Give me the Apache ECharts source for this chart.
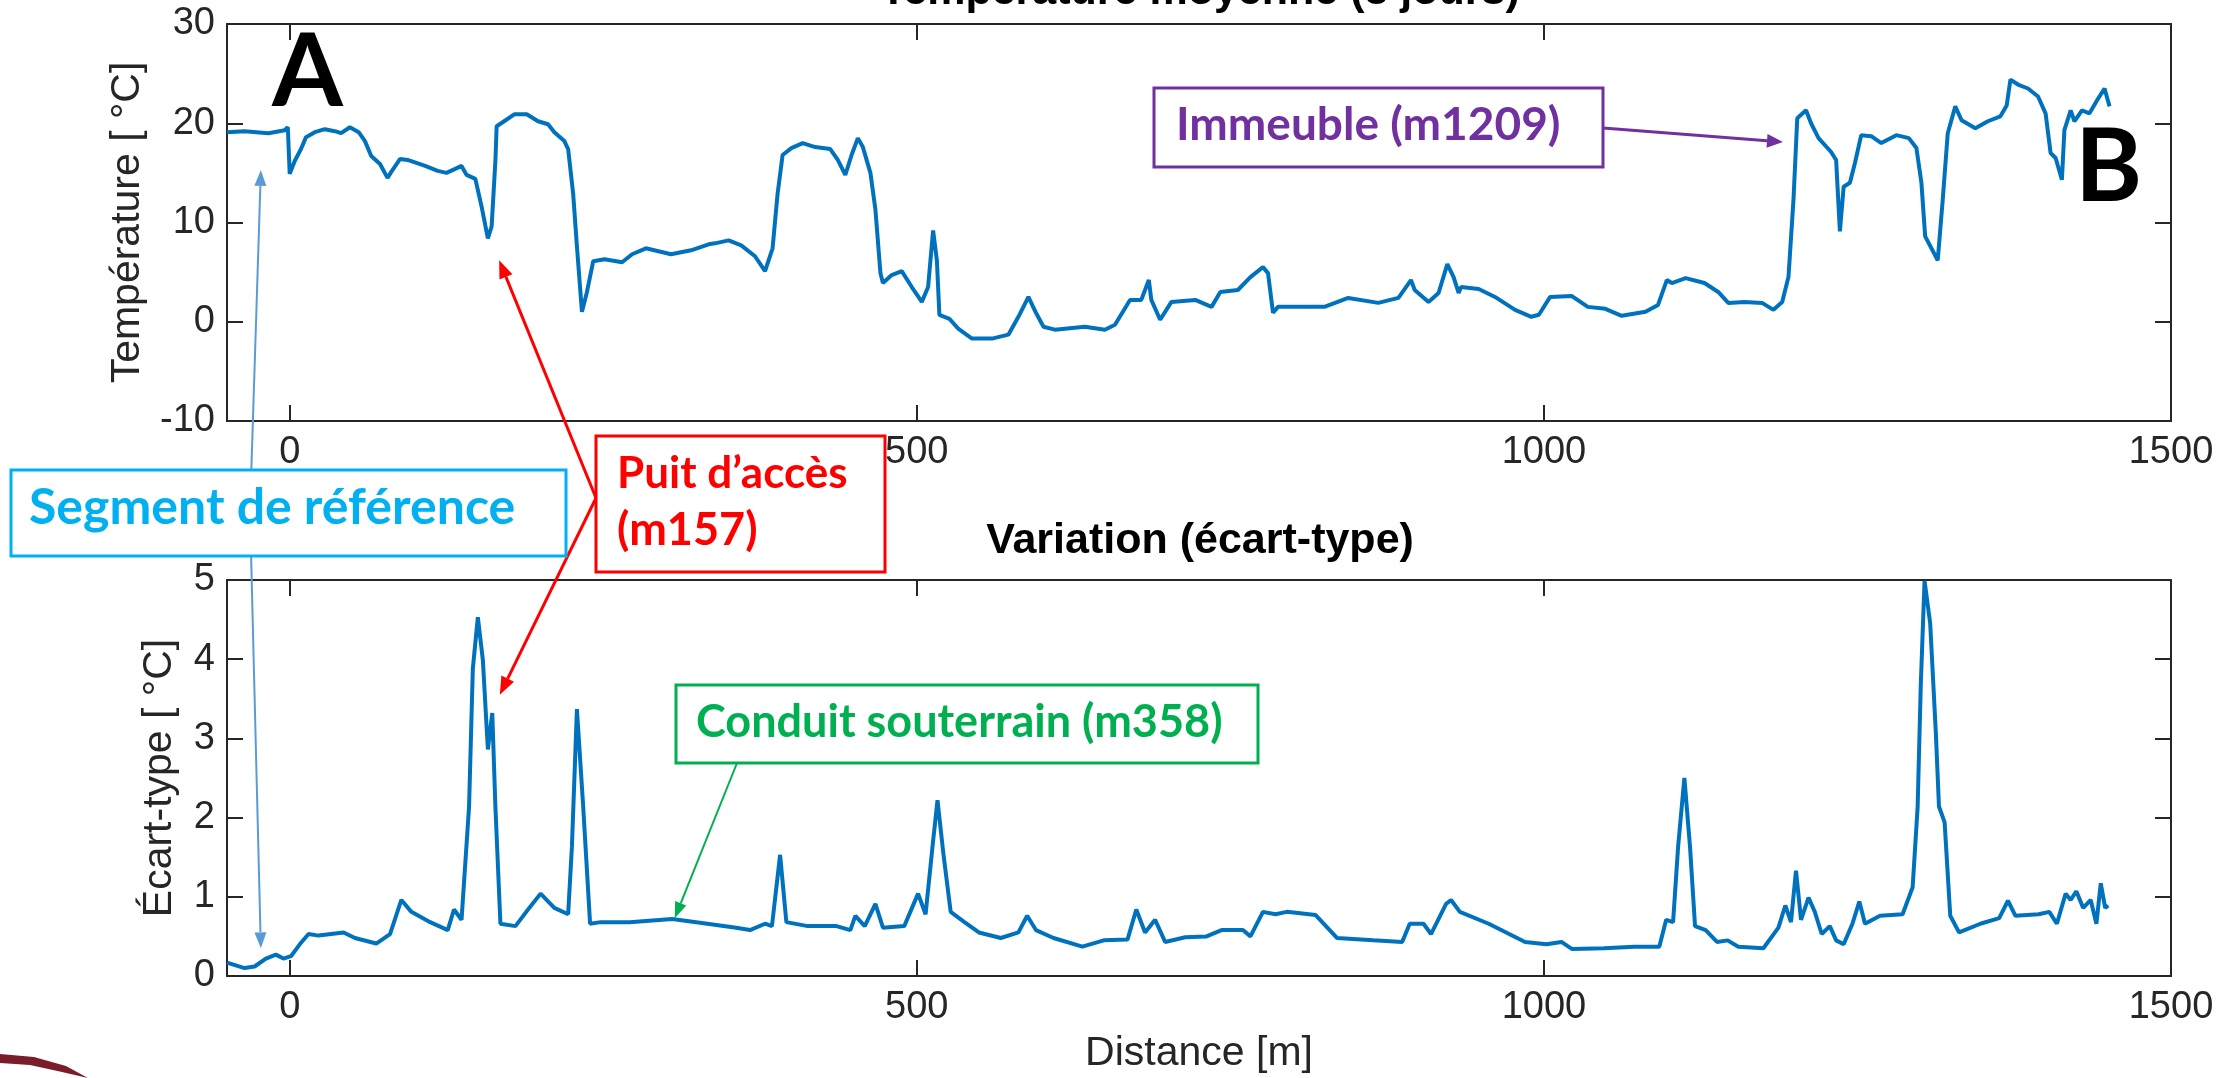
<!DOCTYPE html>
<html>
<head>
<meta charset="utf-8">
<script src="https://cdn.jsdelivr.net/npm/echarts@6/dist/echarts.min.js"></script>
<style>
    html, body { margin: 0; padding: 0; background: #fff; }
    #chart { width: 2233px; height: 1078px; }
</style>
</head>
<body>
<div id="chart"></div>
<script>
    // distance along the cable [m]
    var tempDist = [-50, -36, -17, -4, -1.5, 0, 4, 9, 13, 20, 28, 36, 41, 48, 55, 60, 65, 72, 78, 81,
        88, 94, 108, 118, 125, 132, 137, 141, 148, 153, 158, 161, 164, 165, 171, 179, 189, 198, 206, 211,
        219, 222, 226, 229, 233, 237, 242, 251, 265, 273, 284, 294, 304, 320, 334, 339, 350, 360, 371, 379,
        385, 389, 393, 400, 409, 419, 431, 437, 443, 448, 453, 457, 463, 467, 471, 473, 480, 488, 496, 504,
        509, 513, 516, 518, 526, 533, 544, 560, 573, 581, 589, 595, 601, 610, 634, 650, 658, 670, 679, 685,
        687, 694, 703, 722, 735, 742, 756, 766, 776, 780, 784, 788, 809, 825, 844, 868, 884, 894, 897, 908,
        916, 923, 928, 932, 934, 948, 961, 977, 990, 996, 1005, 1022, 1035, 1049, 1062, 1081, 1091, 1098, 1102, 1113,
        1128, 1139, 1147, 1160, 1174, 1183, 1190, 1195, 1199, 1202, 1209, 1213, 1219, 1229, 1233, 1236, 1239, 1244, 1248, 1253,
        1261, 1269, 1281, 1291, 1297, 1301, 1304, 1314, 1318, 1322, 1328, 1333, 1344, 1354, 1364, 1369, 1372, 1378, 1386, 1394,
        1400, 1404, 1408, 1413, 1415, 1420, 1423, 1429, 1435, 1441, 1447, 1451];
    // mean temperature over 3 days [°C]
    var tempMean = [19.1, 19.2, 19.0, 19.3, 19.6, 14.9, 16.2, 17.4, 18.6, 19.1, 19.4, 19.2, 19.0, 19.6, 19.1, 18.2, 16.7, 15.9, 14.5, 15.1,
        16.4, 16.3, 15.7, 15.2, 15.0, 15.4, 15.7, 14.8, 14.4, 11.6, 8.4, 9.6, 16.2, 19.7, 20.2, 20.9, 20.9, 20.2, 19.9, 19.1,
        18.2, 17.4, 12.9, 7.6, 1.0, 3.0, 6.1, 6.3, 6.0, 6.8, 7.4, 7.1, 6.8, 7.2, 7.8, 7.9, 8.2, 7.7, 6.6, 5.1,
        7.4, 12.9, 16.8, 17.5, 18.0, 17.6, 17.4, 16.3, 14.8, 16.8, 18.5, 17.6, 15.0, 11.3, 4.9, 3.9, 4.7, 5.1, 3.5, 2.0,
        3.5, 9.2, 6.2, 0.7, 0.3, -0.7, -1.7, -1.7, -1.3, 0.5, 2.5, 0.9, -0.5, -0.8, -0.5, -0.8, -0.3, 2.2, 2.2, 4.2,
        2.2, 0.2, 2.0, 2.2, 1.5, 3.0, 3.2, 4.5, 5.5, 4.9, 0.9, 1.5, 1.5, 1.5, 2.4, 1.9, 2.4, 4.2, 3.2, 2.0,
        2.9, 5.8, 4.5, 2.9, 3.5, 3.3, 2.5, 1.2, 0.5, 0.7, 2.5, 2.6, 1.5, 1.3, 0.6, 1.0, 1.7, 4.2, 3.9, 4.4,
        3.9, 3.0, 1.9, 2.0, 1.9, 1.2, 2.0, 4.5, 12.3, 20.5, 21.3, 20.0, 18.5, 17.1, 16.3, 9.1, 13.6, 14.0, 16.0, 18.8,
        18.7, 18.0, 18.8, 18.5, 17.5, 14.0, 8.6, 6.2, 12.3, 19.0, 21.7, 20.3, 19.5, 20.2, 20.7, 21.8, 24.4, 23.9, 23.5, 22.7,
        21.0, 17.0, 16.5, 14.3, 19.3, 21.3, 20.2, 21.3, 21.0, 22.3, 23.5, 21.7];

    var stdDist = [-50, -36, -28, -19, -11, -5, 1, 8, 15, 23, 43, 52, 69, 80, 89, 97, 112, 126, 131, 137,
        143, 146, 150, 154, 158, 161.5, 164, 168, 180, 191, 200, 211, 222, 225, 229, 234, 239.5, 248, 271, 305,
        333, 356, 367, 379, 384.5, 391, 396, 413, 436, 447, 451, 458.5, 467, 473, 490, 501, 507, 512.5, 516.5, 521,
        527, 538, 549.5, 567, 581, 588, 595, 609, 632, 649, 668, 675, 682, 690, 698, 714, 731, 743, 760, 766,
        776, 786, 795, 818, 835, 864, 887, 893, 904, 910, 922, 926, 933, 956, 985, 1002, 1014, 1022.5, 1048, 1072,
        1092, 1097.5, 1103, 1107, 1112, 1116.5, 1120.5, 1129, 1138, 1146.5, 1155, 1175, 1187, 1192.5, 1197, 1201, 1205, 1211, 1216, 1221.5,
        1228, 1233, 1239, 1246, 1251.5, 1256, 1268, 1286, 1294, 1298, 1300.5, 1303.5, 1308, 1312.5, 1315, 1319.5, 1324, 1331, 1348, 1363,
        1370, 1376, 1394.5, 1403, 1409, 1416, 1420, 1424.5, 1430, 1436, 1440.5, 1444, 1447.5, 1450];
    // standard deviation of temperature [°C]
    var stdVal = [0.17, 0.10, 0.12, 0.22, 0.27, 0.22, 0.25, 0.40, 0.53, 0.51, 0.55, 0.48, 0.41, 0.53, 0.96, 0.81, 0.68, 0.58, 0.84, 0.71,
        2.14, 3.88, 4.53, 3.99, 2.86, 3.32, 2.14, 0.66, 0.63, 0.86, 1.04, 0.86, 0.78, 1.63, 3.37, 2.14, 0.66, 0.68, 0.68, 0.72,
        0.66, 0.61, 0.58, 0.66, 0.63, 1.53, 0.68, 0.63, 0.63, 0.58, 0.76, 0.63, 0.91, 0.61, 0.63, 1.04, 0.78, 1.63, 2.22, 1.57,
        0.81, 0.68, 0.55, 0.48, 0.55, 0.76, 0.58, 0.48, 0.37, 0.45, 0.46, 0.84, 0.55, 0.71, 0.43, 0.49, 0.50, 0.58, 0.58, 0.50,
        0.81, 0.78, 0.81, 0.77, 0.48, 0.45, 0.43, 0.66, 0.66, 0.53, 0.91, 0.96, 0.81, 0.66, 0.43, 0.40, 0.43, 0.34, 0.35, 0.37,
        0.37, 0.71, 0.68, 1.63, 2.50, 1.63, 0.63, 0.58, 0.43, 0.45, 0.37, 0.35, 0.61, 0.89, 0.68, 1.33, 0.71, 0.99, 0.81, 0.53,
        0.63, 0.45, 0.40, 0.66, 0.94, 0.66, 0.76, 0.78, 1.12, 2.14, 3.68, 4.99, 4.45, 3.07, 2.14, 1.94, 0.76, 0.55, 0.66, 0.73,
        0.95, 0.76, 0.78, 0.81, 0.66, 1.04, 0.96, 1.07, 0.86, 0.96, 0.66, 1.17, 0.86, 0.89];

    var xTickValues = [0, 500, 1000, 1500];
    var titles = ['Température moyenne (3 jours)', 'Variation (écart-type)'];

    function zip(a, b) {
        var out = [];
        for (var i = 0; i < a.length; i++) out.push([a[i], b[i]]);
        return out;
    }

    var axisColor = '#262626';
    var tickFont = { fontSize: 38, color: axisColor, fontFamily: 'Liberation Sans' };
    var nameFont = { fontSize: 41, color: axisColor, fontFamily: 'Liberation Sans' };
    function plain(v) { return String(v); }

    function xAxisCfg(grid, pos, showLabel, name) {
        return {
            type: 'value', gridIndex: grid, position: pos, min: -50, max: 1500,
            axisLine: { show: true, onZero: false, lineStyle: { color: axisColor, width: 2 } },
            axisTick: { show: true, inside: true, length: 16, customValues: xTickValues, lineStyle: { color: axisColor, width: 2 } },
            axisLabel: Object.assign({ show: showLabel, customValues: xTickValues, margin: 13, formatter: plain }, tickFont),
            splitLine: { show: false },
            name: name || '', nameLocation: 'middle', nameGap: 57, nameTextStyle: nameFont
        };
    }
    function yAxisCfg(grid, pos, showLabel, min, max, step, name, gap) {
        return {
            type: 'value', gridIndex: grid, position: pos, min: min, max: max, interval: step,
            axisLine: { show: true, onZero: false, lineStyle: { color: axisColor, width: 2 } },
            axisTick: { show: true, inside: true, length: 16, lineStyle: { color: axisColor, width: 2 } },
            axisLabel: Object.assign({ show: showLabel, margin: 12, formatter: plain }, tickFont),
            splitLine: { show: false },
            name: name || '', nameLocation: 'middle', nameGap: gap || 0, nameTextStyle: nameFont
        };
    }

    var myChart = echarts.init(document.getElementById('chart'));
    myChart.setOption({
        animation: false,
        backgroundColor: '#fff',
        grid: [
            { left: 227, top: 24, width: 1944, height: 397, outerBoundsMode: 'none' },
            { left: 227, top: 580, width: 1944, height: 396, outerBoundsMode: 'none' }
        ],
        xAxis: [
            xAxisCfg(0, 'bottom', true),
            xAxisCfg(0, 'top', false),
            xAxisCfg(1, 'bottom', true, 'Distance [m]'),
            xAxisCfg(1, 'top', false)
        ],
        yAxis: [
            yAxisCfg(0, 'left', true, -10, 30, 10, 'Température [ °C]', 79),
            yAxisCfg(0, 'right', false, -10, 30, 10),
            yAxisCfg(1, 'left', true, 0, 5, 1, 'Écart-type [ °C]', 47),
            yAxisCfg(1, 'right', false, 0, 5, 1)
        ],
        series: [
            {
                type: 'line', xAxisIndex: 0, yAxisIndex: 0, data: zip(tempDist, tempMean),
                showSymbol: false, lineStyle: { color: '#0072BD', width: 4 }, z: 3
            },
            {
                type: 'line', xAxisIndex: 2, yAxisIndex: 2, data: zip(stdDist, stdVal),
                showSymbol: false, lineStyle: { color: '#0072BD', width: 4 }, z: 3
            }
        ]
    });

    // annotations (boxes, arrows, letters)
    function arrow(from, to, color, width, headLen, headW) {
        var dx = to[0] - from[0], dy = to[1] - from[1];
        var len = Math.sqrt(dx * dx + dy * dy);
        var ux = dx / len, uy = dy / len;
        var bx = to[0] - ux * headLen, by = to[1] - uy * headLen;
        return [
            { type: 'line', z: 100, shape: { x1: from[0], y1: from[1], x2: bx, y2: by }, style: { stroke: color, lineWidth: width } },
            { type: 'polygon', z: 100, shape: { points: [to, [bx - uy * headW / 2, by + ux * headW / 2], [bx + uy * headW / 2, by - ux * headW / 2]] }, style: { fill: color } }
        ];
    }
    function box(x, y, w, h, color) {
        return { type: 'rect', z: 101, shape: { x: x, y: y, width: w, height: h }, style: { fill: '#fff', stroke: color, lineWidth: 3 } };
    }
    var boxFont = 'Lato, "Open Sans", sans-serif';
    function label(txt, x, baseline, size, color) {
        return {
            type: 'text', z: 102, x: x, y: baseline - 0.387 * size,
            style: { text: txt, fill: color, font: 'bold ' + size + 'px ' + boxFont, align: 'left', verticalAlign: 'middle' }
        };
    }
    function px(grid, pt) {
        return myChart.convertToPixel({ gridIndex: grid }, pt);
    }

    var g = [];
    // titles
    g.push({ type: 'text', z: 50, x: 1200, y: 7 - 0.3465 * 43, style: { text: titles[0], fill: '#000', font: 'bold 43px "Liberation Sans"', align: 'center', verticalAlign: 'middle' } });
    g.push({ type: 'text', z: 50, x: 1200, y: 556 - 0.3465 * 43, style: { text: titles[1], fill: '#000', font: 'bold 43px "Liberation Sans"', align: 'center', verticalAlign: 'middle' } });

    // light blue arrows: reference segment
    g = g.concat(arrow([250, 512], px(0, [-23, 15.3]), '#5B9BD5', 2, 16, 12));
    g = g.concat(arrow([250, 512], px(1, [-23, 0.35]), '#5B9BD5', 2, 16, 12));
    // red arrows: access shaft
    g = g.concat(arrow([596, 498], px(0, [167, 6.2]), '#FF0000', 3, 18, 14));
    g = g.concat(arrow([596, 498], px(1, [167.5, 3.55]), '#FF0000', 3, 18, 14));
    // purple arrow: building
    g = g.concat(arrow([1603, 128], px(0, [1190.6, 18.1]), '#7030A0', 3, 16, 14));
    // green arrow: underground conduit
    g = g.concat(arrow([737, 763], px(1, [307, 0.73]), '#00B050', 2, 16, 12));

    g.push(box(11, 470, 555, 86, '#00B0F0'));
    g.push(label('Segment de référence', 29, 527, 50, '#00B0F0'));
    g.push(box(596, 436, 289, 136, '#FF0000'));
    g.push(label('Puit d’accès', 617, 491, 44, '#FF0000'));
    g.push(label('(m157)', 617, 548, 45, '#FF0000'));
    g.push(box(1154, 88, 449, 79, '#7030A0'));
    g.push(label('Immeuble (m1209)', 1176, 143, 46, '#7030A0'));
    g.push(box(676, 685, 582, 78, '#00B050'));
    g.push(label('Conduit souterrain (m358)', 696, 740, 45, '#00B050'));

    g.push(label('A', 272, 113, 102, '#000'));
    g.push(label('B', 2075, 208, 102, '#000'));

    // corner logo swoosh
    g.push({ type: 'polygon', z: 100, shape: { points: [[0, 1054], [34, 1057], [66, 1066], [88, 1078], [62, 1072], [30, 1065], [0, 1063]] }, style: { fill: '#7B1C2A' } });

    myChart.setOption({ graphic: g });

    window.addEventListener('resize', function () {
        myChart.resize();
    });
</script>
</body>
</html>
